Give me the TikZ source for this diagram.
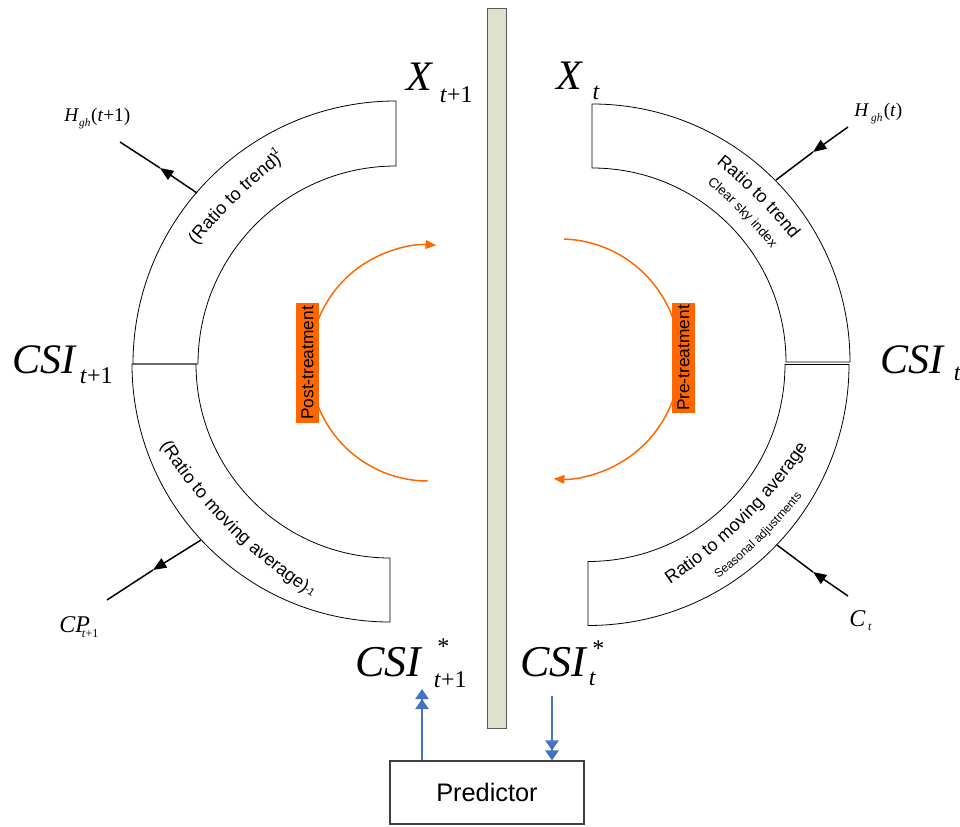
\documentclass[tikz,border=0pt]{standalone}
\usepackage{fontspec}
\setmainfont{Liberation Sans}
\newfontfamily\tms{Liberation Serif}
\usetikzlibrary{arrows.meta,decorations.text,calc}
\definecolor{orng}{HTML}{FF6600}
\definecolor{barfill}{HTML}{DEE2CD}
\definecolor{blu}{HTML}{4472C4}
\newcommand\myfs[1]{\fontsize{#1}{#1}\selectfont}
\begin{document}
\begin{tikzpicture}[x=0.75pt,y=0.75pt,
  ring/.style={draw=black, line width=0.6pt},
  blk/.style={draw=black, line width=1.1pt},
  blkarr/.style={blk, -{Triangle[length=10pt,width=8pt]}},
  bluearr/.style={draw=blu, line width=0.9pt, -{Triangle[length=7.5pt,width=10pt] Triangle[length=7.5pt,width=10pt]}},
  orarc/.style={draw=orng, line width=1.1pt, -{Triangle[length=8pt,width=6.5pt]}},
  tbox/.style={fill=orng, inner sep=0pt, rotate=90, font=\myfs{13}, minimum height=17.25pt},
  lbl/.style={anchor=base west, inner sep=0pt, font=\tms},
  ctext/.style={decorate, decoration={text along path, text align=center, text={#1}}}
]
\useasboundingbox (0,0) rectangle (960,826);

% central bar
\node[draw=black!65, fill=barfill, line width=0.6pt, minimum width=14.25pt, minimum height=540pt, inner sep=0pt] (bar) at (496.5,458) {};

% rings
\draw[ring] (396,725) arc[start angle=90, end angle=180, radius=263] -- (198,462) arc[start angle=180, end angle=90, radius=198] -- cycle;
\draw[ring] (132,462) arc[start angle=180, end angle=270, radius=258] -- (390,268) arc[start angle=270, end angle=180, radius=194] -- cycle;
\draw[ring] (592,722) arc[start angle=90, end angle=0, radius=258] -- (786,464) arc[start angle=0, end angle=90, radius=194] -- cycle;
\draw[ring] (849,461.5) arc[start angle=0, end angle=-90, radius=261] -- (588,264.5) arc[start angle=-90, end angle=0, radius=197] -- cycle;

% texts along the rings
\path[ctext={|\myfs{13.5}|(Ratio to trend)}, shift={($(396,462)+(134.3:-272)$)}] (154.3:500) arc[start angle=154.3, end angle=114.3, radius=500];
\node[font=\myfs{8}, rotate=35, inner sep=0pt] (sup1) at (273,674) {-1};
\path[ctext={|\myfs{13.5}|Ratio to trend}, shift={($(592,464)+(44.75:-269)$)}] (64.75:500) arc[start angle=64.75, end angle=24.75, radius=500];
\path[ctext={|\myfs{10}|Clear sky index}, shift={($(592,464)+(44.75:-269)$)}] (64.75:478.5) arc[start angle=64.75, end angle=24.75, radius=478.5];
\path[ctext={|\myfs{13.5}|Ratio to moving average}, shift={($(588,462)+(-45.2:-276.4)$)}] (-70.2:500) arc[start angle=-70.2, end angle=-20.2, radius=500];
\path[ctext={|\myfs{9}|Seasonal adjustments}, shift={($(588,462)+(-45.2:-276.4)$)}] (-70.2:524.1) arc[start angle=-70.2, end angle=-20.2, radius=524.1];
\path[ctext={|\myfs{13.5}|(Ratio to moving average)}, shift={($(390,462)+(224.5:-268)$)}] (199.5:500) arc[start angle=199.5, end angle=249.5, radius=500];
\node[font=\myfs{8}, rotate=-34, inner sep=0pt] (sup2) at (310,235) {-1};

% orange arcs and boxes
\draw[orarc] (428,345) arc[start angle=270, end angle=86, radius=118];
\draw[orarc, shift={(560,467)}] (88:120) arc[start angle=88, end angle=-93, radius=120];
\node[tbox, minimum width=90pt] (post) at (307.5,463) {Post-treatment};
\node[tbox, minimum width=82.5pt] (pre) at (683.5,468) {Pre-treatment};

% black input/output arrows
\coordinate (h1a) at (197,633); \coordinate (h1t) at (160,658); \coordinate (h1b) at (120,684);
\draw[blkarr] (h1a) -- (h1t); \draw[blk] (h1t) -- (h1b);
\coordinate (h2a) at (848,699); \coordinate (h2t) at (813,674); \coordinate (h2b) at (776,646);
\draw[blkarr] (h2a) -- (h2t); \draw[blk] (h2t) -- (h2b);
\coordinate (c1a) at (201,286); \coordinate (c1t) at (153,256); \coordinate (c1b) at (107,226);
\draw[blkarr] (c1a) -- (c1t); \draw[blk] (c1t) -- (c1b);
\coordinate (c2a) at (848,230); \coordinate (c2t) at (813,254); \coordinate (c2b) at (777,281);
\draw[blkarr] (c2a) -- (c2t); \draw[blk] (c2t) -- (c2b);

% labels
\node[lbl] (xt1) at (406,735) {\myfs{31.5}\textit{X}\kern5pt\raisebox{-9pt}{\myfs{18}\textit{t}+1}};
\node[lbl] (xt) at (556,736) {\myfs{31.5}\textit{X}\kern7pt\raisebox{-7.5pt}{\myfs{18}\textit{t}}};
\node[lbl] (csi1) at (12,453) {\myfs{31.5}\textit{CSI}\kern2.25pt\raisebox{-7.5pt}{\myfs{18}\textit{t}+1}};
\node[lbl] (csi) at (880,453) {\myfs{31.5}\textit{CSI}\kern6.75pt\raisebox{-6pt}{\myfs{18}\textit{t}}};
\node[lbl] (csis1) at (355,150) {\myfs{33}\textit{CSI}\kern8.25pt\rlap{\kern2.5pt\raisebox{16pt}{\myfs{18}*}}\raisebox{-8.25pt}{\myfs{18}\textit{t}+1}};
\node[lbl] (csis) at (520,150) {\myfs{33}\textit{CSI}\kern0.75pt\rlap{\kern2.6pt\raisebox{15pt}{\myfs{18}*}}\raisebox{-6.75pt}{\myfs{18}\textit{t}}};
\node[lbl] (hgh1) at (64,704) {\myfs{14.5}\textit{H}\raisebox{-3.75pt}{\myfs{8.5}\textit{gh}}\kern0.5pt(\textit{t}+1)};
\node[lbl] (hgh) at (854,709) {\myfs{14.5}\textit{H}\kern1.5pt\raisebox{-3.75pt}{\myfs{8.5}\textit{gh}}\kern1pt(\textit{t})};
\node[lbl] (cp) at (59,194) {\myfs{18}\textit{CP}\kern-6pt\raisebox{-4pt}{\myfs{9}\textit{t}+1}};
\node[lbl] (ct) at (849,200) {\myfs{18}\textit{C}\kern2pt\raisebox{-3.5pt}{\myfs{9}\textit{t}}};

% predictor and blue arrows
\node[draw=black!75, line width=0.8pt, minimum width=145.5pt, minimum height=47.25pt, font=\myfs{19}] (pred) at (487,33.5) {Predictor};
\coordinate (bu) at (422,137);
\coordinate (bd) at (552,130);
\draw[bluearr] (pred.north -| bu) -- (bu);
\draw[bluearr] (bd) -- (bd |- pred.north);
\end{tikzpicture}
\end{document}
